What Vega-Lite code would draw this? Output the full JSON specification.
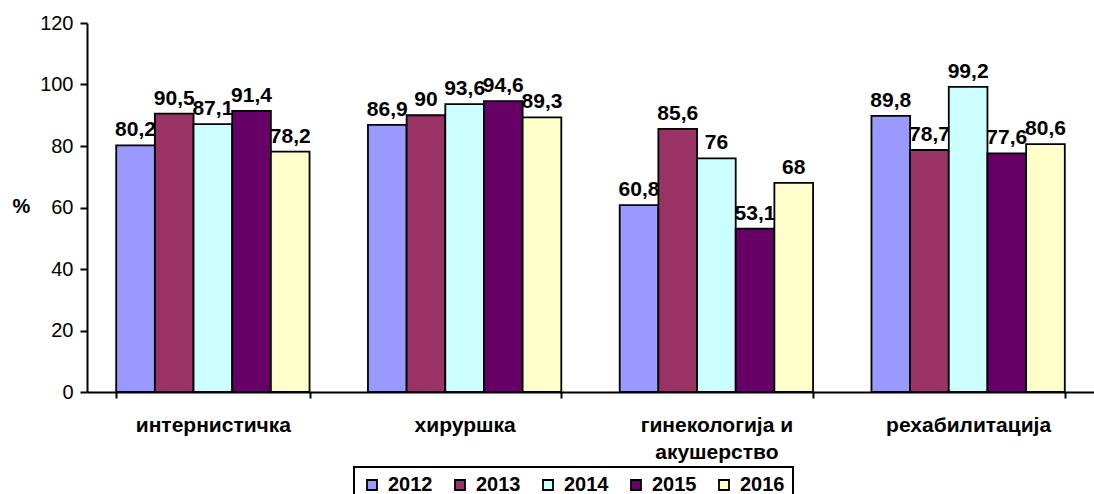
{
  "$schema": "https://vega.github.io/schema/vega-lite/v6.json",
  "width": 1007,
  "height": 369,
  "autosize": "none",
  "padding": {"left": 87, "top": 23, "right": 0, "bottom": 102},
  "background": "white",
  "config": {
    "font": "Liberation Sans",
    "view": {"stroke": null}
  },
  "data": {
    "values": [
      {"cat": "интернистичка", "year": "2012", "v": 80.2},
      {"cat": "интернистичка", "year": "2013", "v": 90.5},
      {"cat": "интернистичка", "year": "2014", "v": 87.1},
      {"cat": "интернистичка", "year": "2015", "v": 91.4},
      {"cat": "интернистичка", "year": "2016", "v": 78.2},
      {"cat": "хируршка", "year": "2012", "v": 86.9},
      {"cat": "хируршка", "year": "2013", "v": 90},
      {"cat": "хируршка", "year": "2014", "v": 93.6},
      {"cat": "хируршка", "year": "2015", "v": 94.6},
      {"cat": "хируршка", "year": "2016", "v": 89.3},
      {"cat": "гинекологија и акушерство", "year": "2012", "v": 60.8},
      {"cat": "гинекологија и акушерство", "year": "2013", "v": 85.6},
      {"cat": "гинекологија и акушерство", "year": "2014", "v": 76},
      {"cat": "гинекологија и акушерство", "year": "2015", "v": 53.1},
      {"cat": "гинекологија и акушерство", "year": "2016", "v": 68},
      {"cat": "рехабилитација", "year": "2012", "v": 89.8},
      {"cat": "рехабилитација", "year": "2013", "v": 78.7},
      {"cat": "рехабилитација", "year": "2014", "v": 99.2},
      {"cat": "рехабилитација", "year": "2015", "v": 77.6},
      {"cat": "рехабилитација", "year": "2016", "v": 80.6}
    ]
  },
  "encoding": {
    "x": {
      "field": "cat", "type": "nominal", "sort": null,
      "scale": {"paddingInner": 0.232, "paddingOuter": 0.116},
      "axis": {
        "title": null, "labelAngle": 0, "labelFontWeight": "bold", "labelFontSize": 21,
        "labelColor": "black", "labelPadding": 16, "domainColor": "black", "domainWidth": 2,
        "tickColor": "black", "tickBand": "extent", "tickSize": 6, "tickWidth": 2,
        "labelLineHeight": 27,
        "labelExpr": "datum.label == 'гинекологија и акушерство' ? ['гинекологија и', 'акушерство'] : datum.label"
      }
    },
    "xOffset": {"field": "year", "type": "nominal", "scale": {"paddingInner": 0}},
    "y": {
      "field": "v", "type": "quantitative",
      "scale": {"domain": [0, 120], "nice": false},
      "axis": {
        "title": "%", "titleAngle": 0, "titleFontWeight": "bold", "titleFontSize": 20,
        "titleColor": "black", "titleX": -66, "titleY": 183, "titleAlign": "center", "titleBaseline": "middle",
        "values": [0, 20, 40, 60, 80, 100, 120], "grid": false,
        "labelFontSize": 20, "labelColor": "black", "labelPadding": 7,
        "domainColor": "black", "domainWidth": 2, "tickColor": "black", "tickSize": 7, "tickWidth": 2
      }
    }
  },
  "layer": [
    {
      "mark": {"type": "bar", "stroke": "black", "strokeWidth": 1.8},
      "encoding": {
        "color": {
          "field": "year", "type": "nominal",
          "scale": {"domain": ["2012", "2013", "2014", "2015", "2016"], "range": ["#9999FF", "#993366", "#CCFFFF", "#660066", "#FFFFCC"]},
          "legend": {
            "title": null, "orient": "none", "direction": "horizontal",
            "legendX": 267, "legendY": 444,
            "symbolType": "square", "symbolSize": 100, "symbolStrokeColor": "black", "symbolStrokeWidth": 1.8,
            "labelFontSize": 20, "labelFontWeight": "bold", "labelColor": "black",
            "columnPadding": 17, "labelOffset": 6,
            "strokeColor": "black", "padding": 8, "fillColor": "white",
            "encode": {"legend": {"update": {"strokeWidth": {"value": 2}}}}
          }
        }
      }
    },
    {
      "mark": {"type": "text", "dy": -9, "baseline": "alphabetic", "fontWeight": "bold", "fontSize": 21, "color": "black",
        "text": {"expr": "replace(format(datum.v, '~g'), '.', ',')"}},
      "encoding": {}
    }
  ]
}
